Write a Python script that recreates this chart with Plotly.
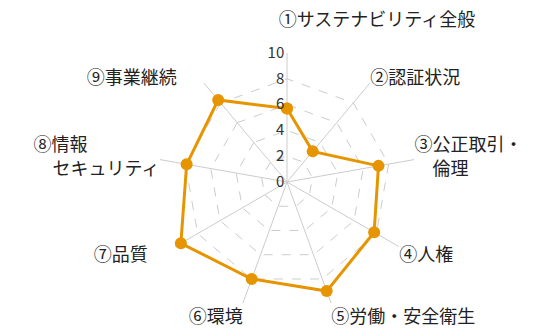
import plotly.graph_objects as go

# categories (angular tick labels)
categories = ["①サステナビリティ全般", "②認証状況", "③公正取引・倫理", "④人権",
              "⑤労働・安全衛生", "⑥環境", "⑦品質", "⑧情報セキュリティ", "⑨事業継続"]
scores = [5.7, 3.1, 7.2, 7.8, 9.0, 8.0, 9.5, 7.9, 8.3]
radial_ticks = [0, 2, 4, 6, 8, 10]

# how the labels are laid out in the picture (line breaks / alignment padding)
tick_text = ["　" * 10 + "①サステナビリティ全般<br>　", "②認証状況", "③公正取引・<br>　倫理", "④人権",
             "⑤労働・安全衛生", "⑥環境", "⑦品質　\u2002", "⑧情報　　　　<br>セキュリティ", "⑨事業継続　\u2002"]

orange = "#E69500"
W, H = 535, 330

fig = go.Figure()

# close the polygon
fig.add_trace(go.Scatterpolar(
    r=scores + scores[:1],
    theta=categories + categories[:1],
    mode="lines+markers",
    line=dict(color=orange, width=3),
    marker=dict(color=orange, size=12),
    showlegend=False,
))

fig.update_layout(
    width=W, height=H,
    margin=dict(l=0, r=0, t=0, b=0, autoexpand=False),
    paper_bgcolor="white",
    font=dict(family="Noto Sans CJK JP", color="#222222"),
    polar=dict(
        # centre ~ (279, 174), radius ~129 px
        domain=dict(x=[150 / W, 408 / W], y=[27 / H, 285 / H]),
        bgcolor="white",
        gridshape="linear",
        radialaxis=dict(
            range=[0, 10],
            tickvals=radial_ticks,
            ticksuffix="\u2007\u2009",
            angle=90,
            side="counterclockwise",
            tickangle=90,
            showline=False,
            ticks="",
            gridcolor="#cccccc",
            griddash="dash",
            gridwidth=1,
            tickfont=dict(size=15, color="#333333"),
        ),
        angularaxis=dict(
            direction="clockwise",
            rotation=90,
            tickvals=categories,
            ticktext=tick_text,
            showline=False,
            ticks="",
            gridcolor="#cccccc",
            gridwidth=1,
            tickfont=dict(size=18, color="#222222"),
        ),
    ),
)

fig.write_html("out.html")
